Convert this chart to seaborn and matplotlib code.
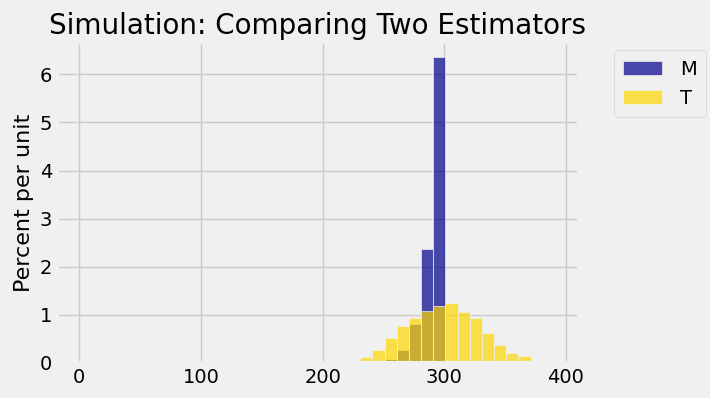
import numpy as np
import matplotlib
matplotlib.use("Agg")
import matplotlib.pyplot as plt
import seaborn as sns

# bin edges: 1, 11, ..., 391 (width 10)
bin_edges = list(range(1, 400, 10))

# heights in percent per unit (bins not listed are zero)
m_bins = [241, 251, 261, 271, 281, 291]
m_heights = [0.03, 0.08, 0.27, 0.80, 2.37, 6.35]

t_bins = [221, 231, 241, 251, 261, 271, 281, 291, 301, 311, 321, 331, 341, 351, 361, 371]
t_heights = [0.04, 0.13, 0.27, 0.52, 0.76, 0.94, 1.09, 1.18, 1.25, 1.06, 0.94, 0.63, 0.38, 0.21, 0.14, 0.03]

plt.style.use("fivethirtyeight")

fig = plt.figure(figsize=(7.1, 3.98), dpi=100)
ax = fig.add_axes([0.080, 0.088, 0.735, 0.806])

# pad with zero bins so the full bin range shows up in autoscaling
m_x = bin_edges[:-1]
m_w = [m_heights[m_bins.index(b)] if b in m_bins else 0 for b in m_x]
t_w = [t_heights[t_bins.index(b)] if b in t_bins else 0 for b in m_x]

sns.histplot(x=m_x, weights=m_w, bins=bin_edges, stat="count", color="darkblue",
             alpha=0.7, edgecolor="#f0f0f0", linewidth=0.5, label="M", ax=ax)
sns.histplot(x=m_x, weights=t_w, bins=bin_edges, stat="count", color="gold",
             alpha=0.7, edgecolor="#f0f0f0", linewidth=0.5, label="T", ax=ax)

ax.set_xlim(-18.5, 410.5)
ax.set_ylim(0, 6.35 * 1.05)
ax.set_xticks([0, 100, 200, 300, 400])
ax.set_yticks([0, 1, 2, 3, 4, 5, 6])
ax.set_ylabel("Percent per unit", fontsize=16)
ax.set_xlabel("")
ax.set_title("Simulation: Comparing Two Estimators", fontsize=20)
ax.tick_params(labelsize=14)

ax.legend(loc="upper left", bbox_to_anchor=(1.067, 0.975), fontsize=14,
          borderaxespad=0, handletextpad=0.9, borderpad=0.5)

fig.savefig("out.png", dpi=100, facecolor=fig.get_facecolor())
